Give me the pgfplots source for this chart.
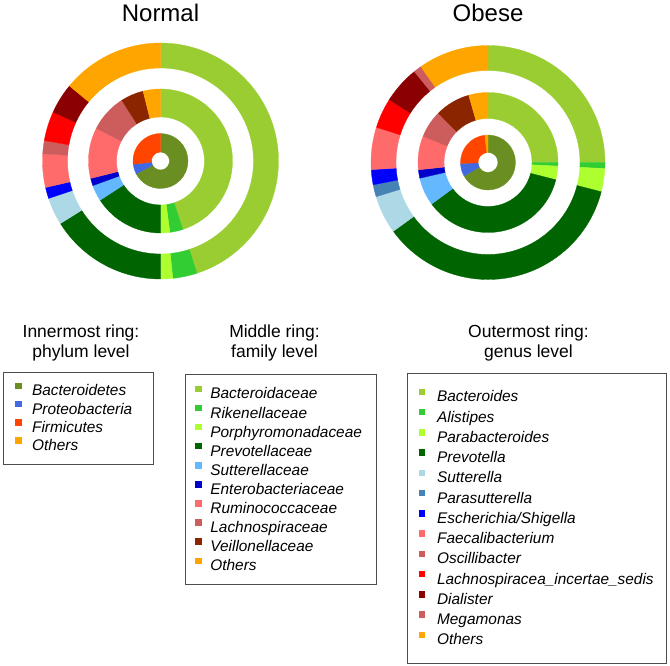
\documentclass[border=0pt]{standalone}
\usepackage{fontspec}
\setmainfont{Liberation Sans}
\usepackage{pgfplots}
\pgfplotsset{compat=1.18}
\usetikzlibrary{calc}

\definecolor{cOlive}{HTML}{6B8E23}
\definecolor{cRoyal}{HTML}{4169E1}
\definecolor{cOrRed}{HTML}{FF4500}
\definecolor{cOrange}{HTML}{FFA500}
\definecolor{cYG}{HTML}{9ACD32}
\definecolor{cLime}{HTML}{32CD32}
\definecolor{cGY}{HTML}{ADFF2F}
\definecolor{cDG}{HTML}{006400}
\definecolor{cSky}{HTML}{63B8FF}
\definecolor{cMedBlue}{HTML}{0000CD}
\definecolor{cSalmon}{HTML}{FF6A6A}
\definecolor{cIndian}{HTML}{CD5C5C}
\definecolor{cVeil}{HTML}{8B2500}
\definecolor{cLB}{HTML}{ADD8E6}
\definecolor{cSteel}{HTML}{4682B4}
\definecolor{cBlue}{HTML}{0000FF}
\definecolor{cRed}{HTML}{FF0000}
\definecolor{cDR}{HTML}{8B0000}

% \slice{cx}{cy}{inner r}{outer r}{start deg (clockwise from top)}{end deg}{colour}
\newcommand\slice[7]{%
  \fill[#7, draw=#7, line width=0.3pt, line join=round]
    ($(axis cs:#1,#2)+({90-(#5)}:#4pt)$) arc[start angle={90-(#5)}, end angle={90-(#6)}, radius=#4pt]
    -- ($(axis cs:#1,#2)+({90-(#6)}:#3pt)$) arc[start angle={90-(#6)}, end angle={90-(#5)}, radius=#3pt]
    -- cycle;}

\pgfplotsset{
  canvas/.style={x=1pt, y=1pt, xmin=0, xmax=670, ymin=0, ymax=666,
    hide axis, clip=false, at={(0,0)}, anchor=south west},
  mylegend/.style={
    legend image code/.code={\path[##1, draw=none] (0pt,2.25pt) rectangle (6.5pt,8.75pt);},
    legend cell align=left,
    legend style={draw=black!70, line width=0.8pt, fill=white,
      font=\fontsize{15.4}{18}\selectfont\itshape, anchor=north west,
      nodes={inner sep=0pt, text height=12pt, text depth=3pt, align=left}}},
}

\begin{document}
\begin{tikzpicture}
\begin{axis}[canvas]
\path (axis cs:0,0) rectangle (axis cs:670,666);
% ---------- Normal ----------
% outer ring: genus
\slice{160.5}{505}{93}{118}{0}{162}{cYG}
\slice{160.5}{505}{93}{118}{162}{174}{cLime}
\slice{160.5}{505}{93}{118}{174}{180}{cGY}
\slice{160.5}{505}{93}{118}{180}{238}{cDG}
\slice{160.5}{505}{93}{118}{238}{251.5}{cLB}
\slice{160.5}{505}{93}{118}{251.5}{257}{cBlue}
\slice{160.5}{505}{93}{118}{257}{273.5}{cSalmon}
\slice{160.5}{505}{93}{118}{273.5}{280}{cIndian}
\slice{160.5}{505}{93}{118}{280}{294.5}{cRed}
\slice{160.5}{505}{93}{118}{294.5}{309.5}{cDR}
\slice{160.5}{505}{93}{118}{309.5}{360}{cOrange}
% middle ring: family
\slice{160.5}{505}{44}{72}{0}{162}{cYG}
\slice{160.5}{505}{44}{72}{162}{172.5}{cLime}
\slice{160.5}{505}{44}{72}{172.5}{180}{cGY}
\slice{160.5}{505}{44}{72}{180}{237}{cDG}
\slice{160.5}{505}{44}{72}{237}{250}{cSky}
\slice{160.5}{505}{44}{72}{250}{256}{cMedBlue}
\slice{160.5}{505}{44}{72}{256}{297}{cSalmon}
\slice{160.5}{505}{44}{72}{297}{327.5}{cIndian}
\slice{160.5}{505}{44}{72}{327.5}{346}{cVeil}
\slice{160.5}{505}{44}{72}{346}{360}{cOrange}
% inner ring: phylum
\slice{160.5}{505}{9}{27.5}{0}{242}{cOlive}
\slice{160.5}{505}{9}{27.5}{242}{263}{cRoyal}
\slice{160.5}{505}{9}{27.5}{263}{360}{cOrRed}
% ---------- Obese ----------
\slice{488}{503.5}{92}{117}{0}{90}{cYG}
\slice{488}{503.5}{92}{117}{90}{93}{cLime}
\slice{488}{503.5}{92}{117}{93}{104.5}{cGY}
\slice{488}{503.5}{92}{117}{104.5}{234}{cDG}
\slice{488}{503.5}{92}{117}{234}{253}{cLB}
\slice{488}{503.5}{92}{117}{253}{259}{cSteel}
\slice{488}{503.5}{92}{117}{259}{266.5}{cBlue}
\slice{488}{503.5}{92}{117}{266.5}{287.5}{cSalmon}
\slice{488}{503.5}{92}{117}{287.5}{302.5}{cRed}
\slice{488}{503.5}{92}{117}{302.5}{321}{cDR}
\slice{488}{503.5}{92}{117}{321}{325}{cIndian}
\slice{488}{503.5}{92}{117}{325}{360}{cOrange}
\slice{488}{503.5}{44}{70}{0}{90}{cYG}
\slice{488}{503.5}{44}{70}{90}{93}{cLime}
\slice{488}{503.5}{44}{70}{93}{104.3}{cGY}
\slice{488}{503.5}{44}{70}{104.3}{233.6}{cDG}
\slice{488}{503.5}{44}{70}{233.6}{257}{cSky}
\slice{488}{503.5}{44}{70}{257}{264}{cMedBlue}
\slice{488}{503.5}{44}{70}{264}{292}{cSalmon}
\slice{488}{503.5}{44}{70}{292}{314.7}{cIndian}
\slice{488}{503.5}{44}{70}{314.7}{344}{cVeil}
\slice{488}{503.5}{44}{70}{344}{360}{cOrange}
\slice{488}{503.5}{10}{27.5}{0}{241}{cOlive}
\slice{488}{503.5}{10}{27.5}{241}{268}{cRoyal}
\slice{488}{503.5}{10}{27.5}{268}{353.5}{cOrRed}
\slice{488}{503.5}{10}{27.5}{353.5}{360}{cOrange}
% titles
\node[anchor=base, font=\fontsize{24}{28}\selectfont] at (axis cs:160.5,644.3) {Normal};
\node[anchor=base, font=\fontsize{24}{28}\selectfont] at (axis cs:488,644.3) {Obese};
\node[anchor=base, font=\fontsize{17.5}{20}\selectfont] at (axis cs:81,328.5) {Innermost ring:};
\node[anchor=base, font=\fontsize{17.5}{20}\selectfont] at (axis cs:81,308.5) {phylum level};
\node[anchor=base, font=\fontsize{17.5}{20}\selectfont] at (axis cs:274.5,328.5) {Middle ring:};
\node[anchor=base, font=\fontsize{17.5}{20}\selectfont] at (axis cs:274.5,308.5) {family level};
\node[anchor=base, font=\fontsize{17.5}{20}\selectfont] at (axis cs:528.5,328.5) {Outermost ring:};
\node[anchor=base, font=\fontsize{17.5}{20}\selectfont] at (axis cs:528.5,308.5) {genus level};
\end{axis}

% legend: phylum
\begin{axis}[canvas, mylegend,
  legend style={at={(axis description cs:0.004925,0.44189)},
    inner xsep=11.75pt, inner ysep=10.5pt, row sep=2.05pt, column sep=10.15pt,
    nodes={text width=109.85pt}}]
\addlegendimage{fill=cOlive}\addlegendentry{Bacteroidetes}
\addlegendimage{fill=cRoyal}\addlegendentry{Proteobacteria}
\addlegendimage{fill=cOrRed}\addlegendentry{Firmicutes}
\addlegendimage{fill=cOrange}\addlegendentry{Others}
\end{axis}

% legend: family
\begin{axis}[canvas, mylegend,
  legend style={at={(axis description cs:0.27612,0.43799)},
    inner xsep=10.05pt, inner ysep=11pt, row sep=2.85pt, column sep=8.45pt,
    nodes={text width=155.65pt}}]
\addlegendimage{fill=cYG}\addlegendentry{Bacteroidaceae}
\addlegendimage{fill=cLime}\addlegendentry{Rikenellaceae}
\addlegendimage{fill=cGY}\addlegendentry{Porphyromonadaceae}
\addlegendimage{fill=cDG}\addlegendentry{Prevotellaceae}
\addlegendimage{fill=cSky}\addlegendentry{Sutterellaceae}
\addlegendimage{fill=cMedBlue}\addlegendentry{Enterobacteriaceae}
\addlegendimage{fill=cSalmon}\addlegendentry{Ruminococcaceae}
\addlegendimage{fill=cIndian}\addlegendentry{Lachnospiraceae}
\addlegendimage{fill=cVeil}\addlegendentry{Veillonellaceae}
\addlegendimage{fill=cOrange}\addlegendentry{Others}
\end{axis}

% legend: genus
\begin{axis}[canvas, mylegend,
  legend style={at={(axis description cs:0.60701,0.43949)},
    inner xsep=11.75pt, inner ysep=15pt, row sep=4.0pt, column sep=11.75pt,
    nodes={text width=217.55pt}}]
\addlegendimage{fill=cYG}\addlegendentry{Bacteroides}
\addlegendimage{fill=cLime}\addlegendentry{Alistipes}
\addlegendimage{fill=cGY}\addlegendentry{Parabacteroides}
\addlegendimage{fill=cDG}\addlegendentry{Prevotella}
\addlegendimage{fill=cLB}\addlegendentry{Sutterella}
\addlegendimage{fill=cSteel}\addlegendentry{Parasutterella}
\addlegendimage{fill=cBlue}\addlegendentry{Escherichia/Shigella}
\addlegendimage{fill=cSalmon}\addlegendentry{Faecalibacterium}
\addlegendimage{fill=cIndian}\addlegendentry{Oscillibacter}
\addlegendimage{fill=cRed}\addlegendentry{Lachnospiracea\_incertae\_sedis}
\addlegendimage{fill=cDR}\addlegendentry{Dialister}
\addlegendimage{fill=cIndian}\addlegendentry{Megamonas}
\addlegendimage{fill=cOrange}\addlegendentry{Others}
\end{axis}
\end{tikzpicture}
\end{document}
